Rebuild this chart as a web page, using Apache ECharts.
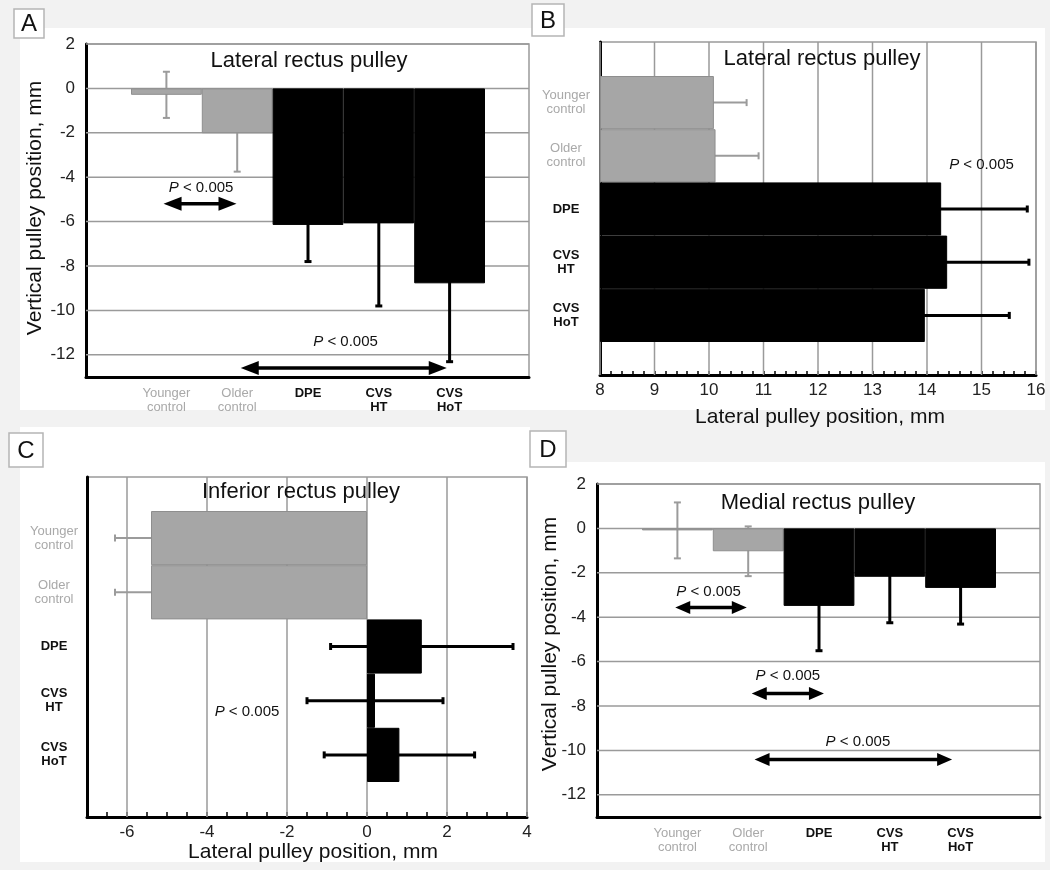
<!DOCTYPE html>
<html><head><meta charset="utf-8">
<script src="https://cdn.jsdelivr.net/npm/echarts@6/dist/echarts.min.js"></script>
<style>html,body{margin:0;padding:0;background:#f2f2f2}#c{width:1050px;height:870px}</style>
</head><body><div id="c"></div>
<script>
// ---------- data ----------
const categories = ['Younger\ncontrol', 'Older\ncontrol', 'DPE', 'CVS\nHT', 'CVS\nHoT'];
const groups = ['control', 'control', 'patient', 'patient', 'patient'];

// A: lateral rectus pulley, vertical position (mm)
const aMean = [-0.29, -2.02, -6.15, -6.08, -8.78];
const aSD   = [1.04, 1.73, 1.65, 3.72, 3.53];
// B: lateral rectus pulley, lateral position (mm)
const bMean = [10.09, 10.12, 14.26, 14.37, 13.96];
const bSD   = [0.60, 0.79, 1.58, 1.50, 1.55];
// C: inferior rectus pulley, lateral position (mm)
const cMean = [-5.40, -5.40, 1.37, 0.20, 0.81];
const cSD   = [0.90, 0.90, 2.28, 1.70, 1.88];
// D: medial rectus pulley, vertical position (mm)
const dMean = [-0.09, -1.03, -3.49, -2.18, -2.68];
const dSD   = [1.26, 1.12, 2.02, 2.07, 1.63];

// tick labels
const vertTicks = [2, 0, -2, -4, -6, -8, -10, -12];
const bTicks = [8, 9, 10, 11, 12, 13, 14, 15, 16];
const cTicks = [-6, -4, -2, 0, 2, 4];

// significance annotations (category-index / data-value space)
const aArrows = [[-0.04, 0.99, -5.2], [1.05, 3.96, -12.59]];   // [fromIdx, toIdx, value]
const aPText  = [[0.49, -4.49], [2.53, -11.42]];                // [idx, value]
const bPText  = [[15.0, 1.17]];                                 // [value, idx]
const cPText  = [[-3.0, 3.2]];                                  // [value, idx]
const dArrows = [[-0.03, 0.98, -3.56], [1.05, 2.07, -7.44], [1.09, 3.88, -10.41]];
const dPText  = [[0.44, -2.84], [1.56, -6.65], [2.55, -9.62]];
const pLabel = '{i|P} < 0.005';

// ---------- styling ----------
const FONT = '"Liberation Sans", Arial, Helvetica, sans-serif';
const GRAY = '#a6a6a6', GRAY_EDGE = '#8e8e8e', GRAY_ERR = '#9b9b9b', GRID = '#9a9a9a';
const isCtrl = i => groups[i] === 'control';

const catRich = {
  g: {color: '#a9a9a9', fontSize: 13, lineHeight: 14, fontFamily: FONT},
  k: {color: '#111', fontSize: 13, fontWeight: 'bold', lineHeight: 14, fontFamily: FONT}
};
function catLabel(val, idx) {
  const k = isCtrl(idx) ? 'g' : 'k';
  return val.split('\n').map(s => '{' + k + '|' + s + '}').join('\n');
}
function barData(arr) {
  return arr.map((v, i) => ({
    value: v,
    itemStyle: isCtrl(i) ? {color: GRAY, borderColor: GRAY_EDGE, borderWidth: 1}
                         : {color: '#000', borderColor: '#000', borderWidth: 1}
  }));
}

const gridBorder = {show: true, borderColor: GRID, borderWidth: 1.5, backgroundColor: 'transparent'};
const grid = [
  Object.assign({left: 86, top: 44, width: 443, height: 333}, gridBorder),   // 0 A frame
  {left: 131, top: 44, width: 354, height: 333},                              // 1 A bars
  Object.assign({left: 600, top: 42, width: 436, height: 333}, gridBorder),  // 2 B frame
  {left: 600, top: 76, width: 436, height: 266},                              // 3 B bars
  Object.assign({left: 87, top: 477, width: 440, height: 340}, gridBorder),  // 4 C frame
  {left: 87, top: 511, width: 440, height: 271},                              // 5 C bars
  Object.assign({left: 597, top: 484, width: 443, height: 333}, gridBorder), // 6 D frame
  {left: 642, top: 484, width: 354, height: 333}                              // 7 D bars
];

const blackLine = {show: true, onZero: false, lineStyle: {color: '#000', width: 3}};
const noAxisParts = {axisTick: {show: false}, axisLabel: {show: false}, splitLine: {show: false}};
const tickLabel = {color: '#222', fontSize: 17, fontFamily: FONT};

function unitAxis(g) {
  return Object.assign({gridIndex: g, type: 'value', min: 0, max: 1, axisLine: blackLine}, noAxisParts);
}
function vertValueAxis(g) {
  return {gridIndex: g, type: 'value', min: -13, max: 2, interval: 1, axisLine: blackLine,
    axisTick: {show: false}, splitLine: {show: false},
    axisLabel: Object.assign({margin: 11, formatter: v => vertTicks.includes(v) ? String(v) : ''}, tickLabel)};
}
function hiddenAxis(g, min, max, start) {
  const ax = {gridIndex: g, type: 'value', min: min, max: max, show: false};
  if (start !== undefined) ax.startValue = start;
  return ax;
}
function catAxisBottom(g) {
  return {gridIndex: g, type: 'category', data: categories, axisLine: {show: false}, axisTick: {show: false},
    splitLine: {show: false}, axisLabel: {interval: 0, margin: 9, formatter: catLabel, rich: catRich}};
}
function catAxisLeft(g, margin) {
  return {gridIndex: g, type: 'category', data: categories, inverse: true, axisLine: {show: false},
    axisTick: {show: false}, splitLine: {show: false},
    axisLabel: {interval: 0, margin: margin, align: 'center', formatter: catLabel, rich: catRich}};
}

const xAxis = [
  unitAxis(0),
  catAxisBottom(1),
  {gridIndex: 2, type: 'value', min: 8, max: 16, interval: 0.2, axisLine: blackLine,
   axisTick: {show: true, inside: true, length: 4, lineStyle: {color: '#000', width: 1.5}},
   splitLine: {show: false},
   axisLabel: Object.assign({margin: 7, formatter: v => {
     const r = Math.round(v * 10) / 10; return bTicks.includes(r) ? String(r) : '';}}, tickLabel)},
  hiddenAxis(3, 8, 16, 8),
  {gridIndex: 4, type: 'value', min: -7, max: 4, interval: 0.5, axisLine: blackLine,
   axisTick: {show: true, inside: true, length: 5, lineStyle: {color: '#000', width: 1.5}},
   splitLine: {show: false},
   axisLabel: Object.assign({margin: 7, formatter: v => cTicks.includes(v) ? String(v) : ''}, tickLabel)},
  hiddenAxis(5, -7, 4),
  unitAxis(6),
  catAxisBottom(7)
];
const yAxis = [
  vertValueAxis(0),
  hiddenAxis(1, -13, 2),
  unitAxis(2),
  catAxisLeft(3, 34),
  unitAxis(4),
  catAxisLeft(5, 33),
  vertValueAxis(6),
  hiddenAxis(7, -13, 2)
];

// ---------- series helpers ----------
function hGridLines(g, ticks) {
  return {type: 'custom', xAxisIndex: g, yAxisIndex: g, z: 1, silent: true,
    data: ticks.map(t => [0, t]),
    renderItem: (p, api) => {
      const y = api.coord([0, api.value(1)])[1], cs = p.coordSys;
      return {type: 'line', shape: {x1: cs.x, y1: y, x2: cs.x + cs.width, y2: y},
        style: {stroke: GRID, lineWidth: 1.5}};
    }};
}
function vGridLines(g, ticks) {
  return {type: 'custom', xAxisIndex: g, yAxisIndex: g, z: 1, silent: true,
    data: ticks.map(t => [t, 0]),
    renderItem: (p, api) => {
      const x = api.coord([api.value(0), 0])[0], cs = p.coordSys;
      return {type: 'line', shape: {x1: x, y1: cs.y, x2: x, y2: cs.y + cs.height},
        style: {stroke: GRID, lineWidth: 1.5}};
    }};
}
function errLines(lo, hi, ctrl, vertical) {
  const c = ctrl ? GRAY_ERR : '#000', w = ctrl ? 2 : 3, cap = 3.5;
  const st = {stroke: c, lineWidth: w};
  const capShape = pt => vertical
    ? {x1: pt[0] - cap, y1: pt[1], x2: pt[0] + cap, y2: pt[1]}
    : {x1: pt[0], y1: pt[1] - cap, x2: pt[0], y2: pt[1] + cap};
  return {type: 'group', children: [
    {type: 'line', shape: {x1: lo[0], y1: lo[1], x2: hi[0], y2: hi[1]}, style: st},
    {type: 'line', shape: capShape(lo), style: st},
    {type: 'line', shape: capShape(hi), style: st}
  ]};
}
function errV(g, mean, sd) {
  return {type: 'custom', xAxisIndex: g, yAxisIndex: g, z: 2, silent: true,
    encode: {x: 0, y: 1},
    data: mean.map((m, i) => [i, m, sd[i]]),
    renderItem: (p, api) => {
      const i = api.value(0), m = api.value(1), s = api.value(2);
      return errLines(api.coord([i, m - s]), api.coord([i, m + s]), isCtrl(i), true);
    }};
}
function errH(g, mean, sd) {
  return {type: 'custom', xAxisIndex: g, yAxisIndex: g, z: 2, silent: true,
    encode: {x: 0, y: 1},
    data: mean.map((m, i) => [m, i, sd[i]]),
    renderItem: (p, api) => {
      const m = api.value(0), i = api.value(1), s = api.value(2);
      return errLines(api.coord([m - s, i]), api.coord([m + s, i]), isCtrl(i), false);
    }};
}
function pTextEl(x, y) {
  return {type: 'text', x: x, y: y, style: {
    text: pLabel, fontSize: 15, fontFamily: FONT, fill: '#111',
    align: 'center', verticalAlign: 'middle',
    rich: {i: {fontStyle: 'italic', fontSize: 15, fontFamily: FONT, fill: '#111'}}}};
}
function arrowEl(x1, x2, y, L, H) {
  return {type: 'group', children: [
    {type: 'line', shape: {x1: x1 + L * 0.6, y1: y, x2: x2 - L * 0.6, y2: y}, style: {stroke: '#000', lineWidth: 3.5}},
    {type: 'polygon', shape: {points: [[x1, y], [x1 + L, y - H], [x1 + L, y + H]]}, style: {fill: '#000'}},
    {type: 'polygon', shape: {points: [[x2, y], [x2 - L, y - H], [x2 - L, y + H]]}, style: {fill: '#000'}}
  ]};
}
// fractional category position -> pixel
function catX(api, frac, val) {
  const c0 = api.coord([0, val]), c1 = api.coord([1, val]);
  return [c0[0] + frac * (c1[0] - c0[0]), c0[1]];
}
function catY(api, val, frac) {
  const c0 = api.coord([val, 0]), c1 = api.coord([val, 1]);
  return [c0[0], c0[1] + frac * (c1[1] - c0[1])];
}
function annotV(g, arrows, texts, L, H) {
  const data = arrows.map(a => [0, a[2], 0, a[0], a[1]]).concat(texts.map(t => [0, t[1], 1, t[0], 0]));
  return {type: 'custom', xAxisIndex: g, yAxisIndex: g, z: 5, silent: true, encode: {x: 0, y: 1},
    data: data,
    renderItem: (p, api) => {
      const val = api.value(1), kind = api.value(2);
      if (kind === 0) {
        const a = catX(api, api.value(3), val), b = catX(api, api.value(4), val);
        return arrowEl(a[0], b[0], a[1], L, H);
      }
      const q = catX(api, api.value(3), val);
      return pTextEl(q[0], q[1]);
    }};
}
function annotH(g, texts) {
  return {type: 'custom', xAxisIndex: g, yAxisIndex: g, z: 5, silent: true, encode: {x: 0, y: 1},
    data: texts.map(t => [t[0], 0, t[1]]),
    renderItem: (p, api) => {
      const q = catY(api, api.value(0), api.value(2));
      return pTextEl(q[0], q[1]);
    }};
}

const series = [
  // A
  hGridLines(0, vertTicks),
  errV(1, aMean, aSD),
  {type: 'bar', xAxisIndex: 1, yAxisIndex: 1, z: 3, barWidth: '100%', barCategoryGap: '0%', data: barData(aMean)},
  annotV(1, aArrows, aPText, 18, 7),
  // B
  vGridLines(2, bTicks),
  errH(3, bMean, bSD),
  {type: 'bar', xAxisIndex: 3, yAxisIndex: 3, z: 3, barWidth: '100%', barCategoryGap: '0%', data: barData(bMean)},
  annotH(3, bPText),
  // C
  vGridLines(4, cTicks),
  errH(5, cMean, cSD),
  {type: 'bar', xAxisIndex: 5, yAxisIndex: 5, z: 3, barWidth: '100%', barCategoryGap: '0%', data: barData(cMean)},
  annotH(5, cPText),
  // D
  hGridLines(6, vertTicks),
  errV(7, dMean, dSD),
  {type: 'bar', xAxisIndex: 7, yAxisIndex: 7, z: 3, barWidth: '100%', barCategoryGap: '0%', data: barData(dMean)},
  annotV(7, dArrows, dPText, 15, 6.5)
];

// ---------- decorations ----------
function txt(x, y, text, size, rot) {
  return {type: 'text', x: x, y: y, rotation: rot || 0, z: 10, silent: true,
    style: {text: text, fontSize: size, fontFamily: FONT, fill: '#111',
      align: 'center', verticalAlign: 'middle', textAlign: 'center', textVerticalAlign: 'middle'}};
}
function letterBox(x, y, w, h, letter) {
  return [
    {type: 'rect', shape: {x: x, y: y, width: w, height: h}, z: 9, silent: true,
     style: {fill: '#fff', stroke: '#b5b5b5', lineWidth: 1.5}},
    txt(x + w / 2, y + h / 2 + 1, letter, 24)
  ];
}
function panelBg(x, y, w, h) {
  return {type: 'rect', shape: {x: x, y: y, width: w, height: h}, z: -10, silent: true, style: {fill: '#fff'}};
}
const graphic = [
  panelBg(20, 28, 1025, 382),
  panelBg(20, 427, 510, 435),
  panelBg(530, 462, 515, 400),
  ...letterBox(14, 9, 30, 29, 'A'),
  ...letterBox(532, 4, 32, 32, 'B'),
  ...letterBox(9, 433, 34, 34, 'C'),
  ...letterBox(530, 431, 36, 36, 'D'),
  txt(309, 61, 'Lateral rectus pulley', 22),
  txt(822, 59, 'Lateral rectus pulley', 22),
  txt(301, 492, 'Inferior rectus pulley', 22),
  txt(818, 503, 'Medial rectus pulley', 22),
  txt(35, 208, 'Vertical pulley position, mm', 21, Math.PI / 2),
  txt(550, 644, 'Vertical pulley position, mm', 21, Math.PI / 2),
  txt(820, 417, 'Lateral pulley position, mm', 21),
  txt(313, 852, 'Lateral pulley position, mm', 21)
];

const chart = echarts.init(document.getElementById('c'), null, {renderer: 'canvas'});
chart.setOption({
  animation: false,
  backgroundColor: '#f2f2f2',
  textStyle: {fontFamily: FONT},
  grid: grid, xAxis: xAxis, yAxis: yAxis, series: series, graphic: graphic
});
</script></body></html>
